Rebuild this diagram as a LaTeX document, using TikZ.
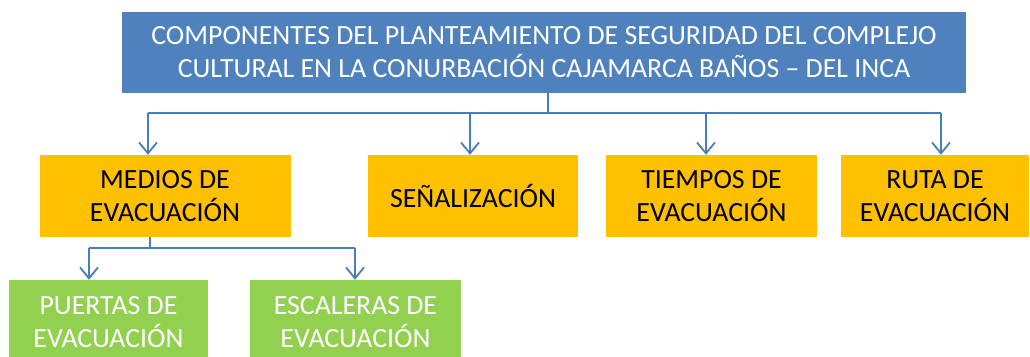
\documentclass[tikz,border=0pt]{standalone}
\usepackage{fontspec}
\setmainfont{Carlito}
\usetikzlibrary{arrows.meta,positioning}

\definecolor{titleblue}{HTML}{4F81BD}
\definecolor{linkblue}{HTML}{4A7EBB}
\definecolor{boxorange}{HTML}{FFC000}
\definecolor{boxgreen}{HTML}{92D050}

\begin{document}
\begin{tikzpicture}[x=1pt,y=-1pt]
\tikzset{
  box/.style={rectangle,inner sep=0pt,align=center,font=\fontsize{27.8}{33}\selectfont},
  titlebox/.style={box,fill=titleblue,text=white,minimum height=81pt},
  mainbox/.style={box,fill=boxorange,text=black,minimum height=82pt},
  subbox/.style={box,fill=boxgreen,text=white,minimum height=84pt},
  link/.style={draw=linkblue,line width=1.8pt},
  directed/.style={link,-{Straight Barb[length=11pt,width=18pt]}}
}
\useasboundingbox (0,0) rectangle (1030,356);
\node[titlebox,minimum width=844pt] (n_title) at (544,52.5)
  {COMPONENTES DEL PLANTEAMIENTO DE SEGURIDAD DEL COMPLEJO\\
   CULTURAL EN LA CONURBACIÓN CAJAMARCA BAÑOS -- DEL INCA};
\node[mainbox,minimum width=251pt] (n_medios) at (165,196) {MEDIOS DE\\EVACUACIÓN};
\node[mainbox,minimum width=210pt] (n_senal) at (473,196) {SEÑALIZACIÓN};
\node[mainbox,minimum width=211pt] (n_tiempos) at (711.5,196) {TIEMPOS DE\\EVACUACIÓN};
\node[mainbox,minimum width=188pt] (n_ruta) at (935,196) {RUTA DE\\EVACUACIÓN};
\node[subbox,minimum width=199pt] (n_puertas) at (108.5,322) {PUERTAS DE\\EVACUACIÓN};
\node[subbox,minimum width=211pt] (n_escaleras) at (355.5,322) {ESCALERAS DE\\EVACUACIÓN};
% bus under the title
\coordinate (j_title) at (548,113);
\coordinate (j_medios) at (148,113);
\coordinate (j_senal) at (470,113);
\coordinate (j_tiempos) at (706,113);
\coordinate (j_ruta) at (941,113);
\draw[link] (j_title |- n_title.south) -- (j_title);
\draw[link] (j_medios) -- (j_ruta);
\draw[directed] (j_medios) -- (j_medios |- n_medios.north);
\draw[directed] (j_senal) -- (j_senal |- n_senal.north);
\draw[directed] (j_tiempos) -- (j_tiempos |- n_tiempos.north);
\draw[directed] (j_ruta) -- (j_ruta |- n_ruta.north);
% bus under MEDIOS DE EVACUACION
\coordinate (j_sub) at (150,248);
\coordinate (j_puertas) at (89,248);
\coordinate (j_escaleras) at (355,248);
\draw[link] (j_sub |- n_medios.south) -- (j_sub);
\draw[link] (j_puertas) -- (j_escaleras);
\draw[directed] (j_puertas) -- (j_puertas |- n_puertas.north);
\draw[directed] (j_escaleras) -- (j_escaleras |- n_escaleras.north);
\end{tikzpicture}
\end{document}
